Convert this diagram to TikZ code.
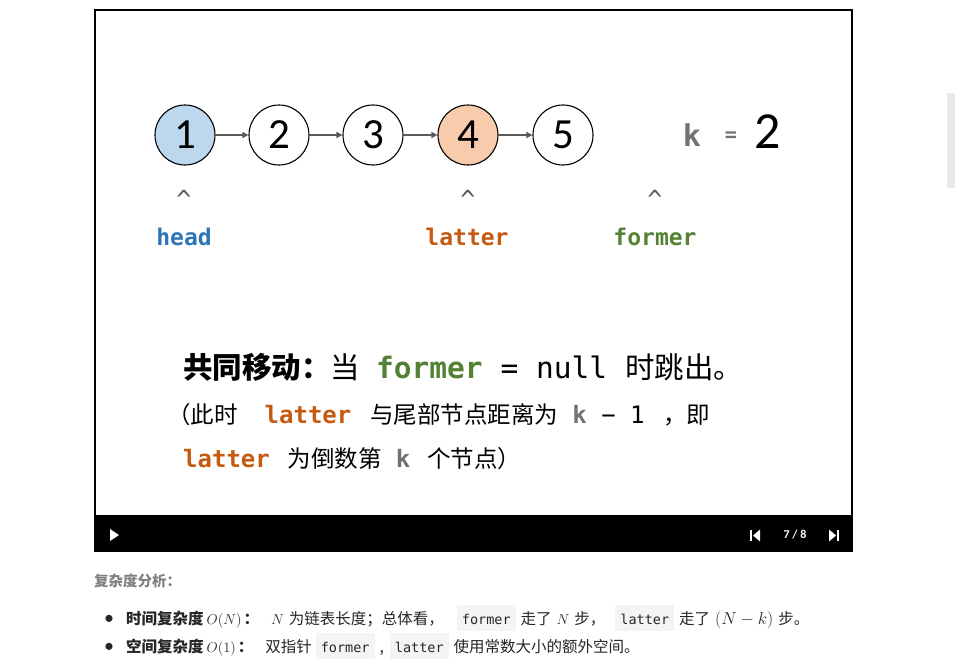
\documentclass[tikz,border=0pt]{standalone}
\usepackage{fontspec}
\setmainfont{Carlito}
\setmonofont{DejaVu Sans Mono}
\newfontfamily\cjk{Noto Sans CJK SC}
\usetikzlibrary{arrows.meta,positioning}
\definecolor{headblue}{RGB}{46,117,182}
\definecolor{latterorange}{RGB}{197,90,17}
\definecolor{formergreen}{RGB}{84,130,53}
\definecolor{kgrey}{RGB}{118,113,113}
\definecolor{linkgrey}{RGB}{89,89,89}
\definecolor{codebg}{RGB}{243,244,244}
\newcommand{\fs}[1]{\fontsize{#1}{#1}\selectfont}
\newcommand{\code}[1]{{\setlength{\fboxsep}{5pt}\colorbox{codebg}{\ttfamily\fs{13.5}\rule[-2pt]{0pt}{16pt}#1}}}
\newcommand{\bul}{{\rmfamily\fs{20}\textbullet}}

\begin{document}
\begin{tikzpicture}[x=1pt, y=-1pt,
  listnode/.style={circle, draw=black, line width=1.1pt, minimum size=60pt,
    inner sep=0pt, font=\fs{43}},
  link/.style={-{Triangle[length=6pt,width=6pt]}, linkgrey, line width=1.4pt},
  caret/.style={text=linkgrey, font=\ttfamily\fs{25}},
  ptr/.style={font=\ttfamily\bfseries\fs{23}}]
  \useasboundingbox (0,0) rectangle (955,669);
  % Slide frame and player bar
  \draw[line width=2pt] (95,10) rectangle (852,516);
  \fill[black] (94,516) rectangle (853,552);
  % List nodes
  \node[listnode, fill={rgb,255:red,189;green,215;blue,238}] (n1) at (185,135) {1};
  \node[listnode] (n2) at (279,135) {2};
  \node[listnode] (n3) at (373,135) {3};
  \node[listnode, fill={rgb,255:red,248;green,203;blue,173}] (n4) at (468,135) {4};
  \node[listnode] (n5) at (563,135) {5};
  \foreach \a/\b in {n1/n2, n2/n3, n3/n4, n4/n5}
    \draw[link] (\a) -- (\b);
  % k = 2
  \node[text=kgrey, font=\ttfamily\bfseries\fs{30}] (k) at (692,135) {k};
  \node[text=kgrey, font=\ttfamily\bfseries\fs{20}] (eq) at (731,137) {=};
  \node[font=\fs{52}] (kval) at (768,132) {2};
  % Pointers
  \node[caret] (c1) at (184,199) {\textasciicircum};
  \node[caret] (c2) at (468,199) {\textasciicircum};
  \node[caret] (c3) at (655,199) {\textasciicircum};
  \node[ptr, text=headblue] (head) at (184,237) {head};
  \node[ptr, text=latterorange] (latter) at (467,237) {latter};
  \node[ptr, text=formergreen] (former) at (655,237) {former};
  % Caption
  \node[anchor=base west, inner sep=0pt] (line1) at (183,378)
    {\fs{29.5}{\cjk\bfseries 共同移动：}{\cjk 当}\hspace{16pt}{\ttfamily{\bfseries\color{formergreen}former} = null}\hspace{18pt}{\cjk 时跳出。}};
  \node[anchor=base west, inner sep=0pt] (line2) at (167,423)
    {\fs{23.5}{\cjk （此时}\hspace{27pt}{\ttfamily\bfseries\fs{24}\color{latterorange}latter}\hspace{19pt}{\cjk 与尾部节点距离为}\hspace{14pt}{\ttfamily\fs{24}{\bfseries\color{kgrey}k} − 1 }\hspace{4pt}{\cjk ，即}};
  \node[anchor=base west, inner sep=0pt] (line3) at (183,467)
    {\fs{23.5}{\ttfamily\bfseries\fs{24}\color{latterorange}latter}\hspace{18pt}{\cjk 为倒数第}\hspace{14pt}{\ttfamily\bfseries\fs{24}\color{kgrey}k}\hspace{17pt}{\cjk 个节点）}};
  % Player controls
  \fill[white] (110,529) -- (119,535) -- (110,541) -- cycle;
  \fill[white] (750,530) rectangle (752,541);
  \fill[white] (760,529.5) -- (753,535.5) -- (760,541.5) -- cycle;
  \node[text=white, font=\bfseries\fs{12}] (page) at (795,535) {7 / 8};
  \fill[white] (829,529.5) -- (836,535.5) -- (829,541.5) -- cycle;
  \fill[white] (837,530) rectangle (839,541);
  % Complexity notes
  \node[anchor=base west, inner sep=0pt, text=black!50, font=\cjk\bfseries\fs{14.5}] (cx) at (94,586) {复杂度分析：};
  \node[anchor=base west, inner sep=0pt, text=black!85, font=\cjk\fs{15.5}] (b1) at (104,624)
    {\bul\hspace{12pt}{\bfseries 时间复杂度}\hspace{3pt}$O(N)$\hspace{2pt}{\bfseries ：}\hspace{12pt}$N$\hspace{5pt}为链表长度；总体看，\hspace{13pt}\code{former}\hspace{5pt}走了\hspace{5pt}$N$\hspace{5pt}步，\hspace{10pt}\code{latter}\hspace{5pt}走了\hspace{5pt}{\fs{17.5}$(N-k)$}\hspace{5pt}步。};
  \node[anchor=base west, inner sep=0pt, text=black!85, font=\cjk\fs{15.5}] (b2) at (104,652)
    {\bul\hspace{12pt}{\bfseries 空间复杂度}\hspace{3pt}$O(1)$\hspace{2pt}{\bfseries ：}\hspace{12pt}双指针\hspace{4pt}\code{former}\hspace{5pt},\hspace{6pt}\code{latter}\hspace{5pt}使用常数大小的额外空间。};
  % Scroll bar
  \filldraw[fill={rgb,255:red,232;green,232;blue,236}, draw=black!8] (947,93) rectangle (955,187);
\end{tikzpicture}
\end{document}
